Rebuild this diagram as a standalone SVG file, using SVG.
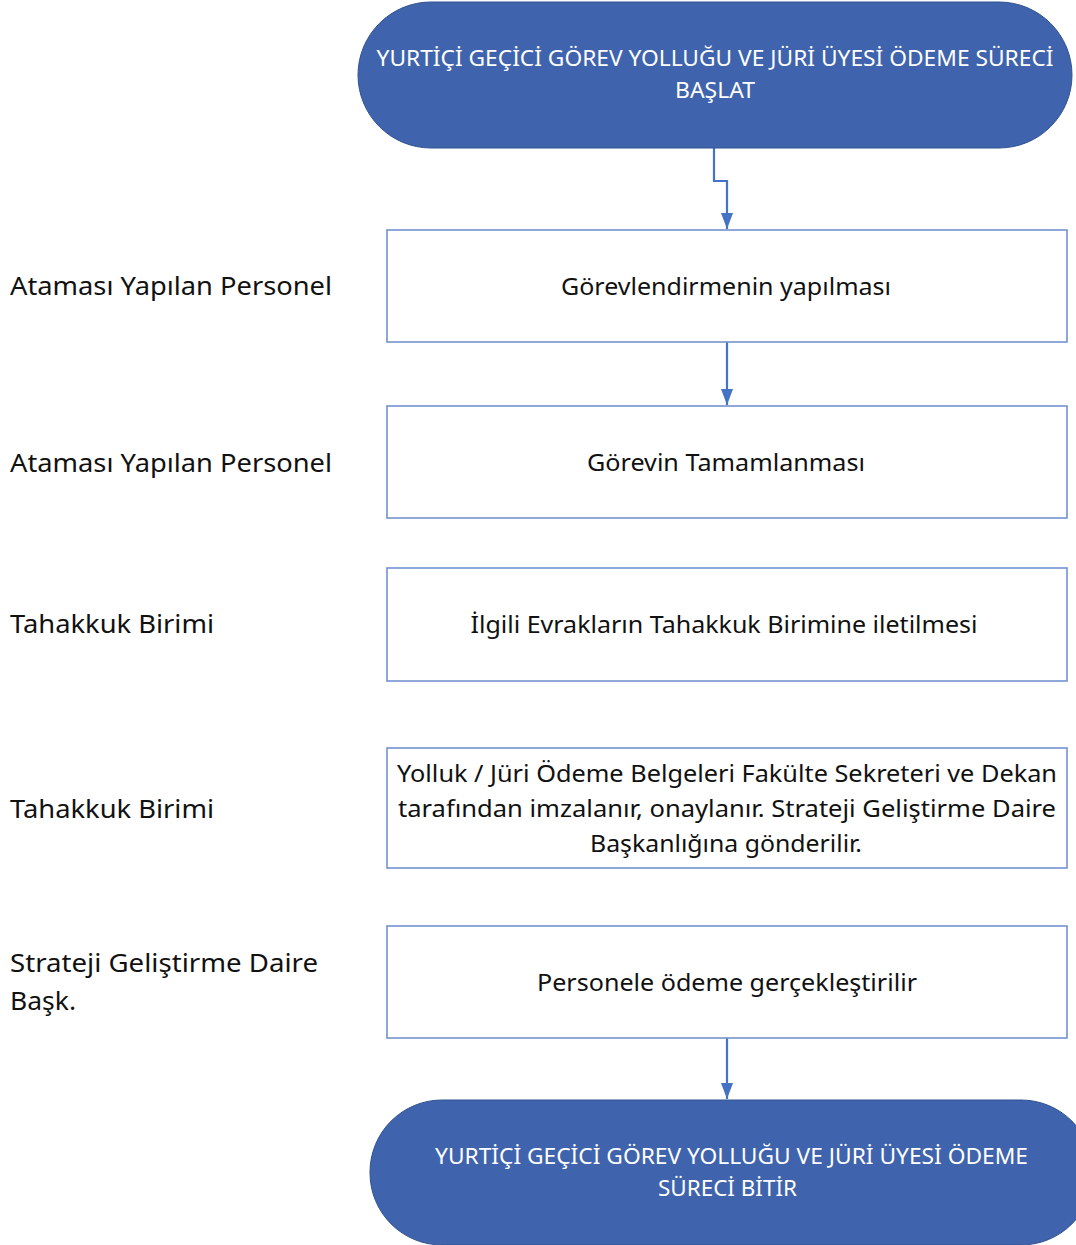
<svg xmlns="http://www.w3.org/2000/svg" width="1076" height="1245" viewBox="0 0 1076 1245">
<defs>
<style>
.term{fill:#3F64AD;stroke:#2F528F;stroke-width:1}
.box{fill:#ffffff;stroke:#7391D0;stroke-width:1.6}
.tt{font-family:"Noto Sans","Open Sans",sans-serif;font-size:22px;fill:#ffffff;text-anchor:middle}
.bt{font-family:"Noto Sans","Open Sans",sans-serif;font-size:24px;fill:#111111;text-anchor:middle}
.lt{font-family:"Noto Sans","Open Sans",sans-serif;font-size:26px;fill:#111111}
.con{fill:none;stroke:#4472C4;stroke-width:2.2}
</style>
<marker id="arr" viewBox="0 0 16 12" refX="16" refY="6" markerWidth="16" markerHeight="12" markerUnits="userSpaceOnUse" orient="auto">
<path d="M0,0 L16,6 L0,12 Z" fill="#4472C4"/>
</marker>
</defs>
<rect width="1076" height="1245" fill="#ffffff"/>

<g id="lane-labels">
<text class="lt" x="10" y="295" textLength="322" lengthAdjust="spacingAndGlyphs">Ataması Yapılan Personel</text>
<text class="lt" x="10" y="472" textLength="322" lengthAdjust="spacingAndGlyphs">Ataması Yapılan Personel</text>
<text class="lt" x="10" y="633" textLength="204" lengthAdjust="spacingAndGlyphs">Tahakkuk Birimi</text>
<text class="lt" x="10" y="818" textLength="204" lengthAdjust="spacingAndGlyphs">Tahakkuk Birimi</text>
<text class="lt" x="10" y="972" textLength="308" lengthAdjust="spacingAndGlyphs">Strateji Geliştirme Daire</text>
<text class="lt" x="10" y="1010" textLength="66" lengthAdjust="spacingAndGlyphs">Başk.</text>
</g>

<g id="connectors">
<path class="con" d="M714,148 V181 H727 V229" marker-end="url(#arr)"/>
<path class="con" d="M727,342 V405" marker-end="url(#arr)"/>
<path class="con" d="M727,1038 V1099" marker-end="url(#arr)"/>
</g>

<g id="start">
<rect class="term" x="358" y="2" width="714" height="146" rx="73" ry="73"/>
<text class="tt" x="715" y="66" textLength="677" lengthAdjust="spacingAndGlyphs">YURTİÇİ GEÇİCİ GÖREV YOLLUĞU VE JÜRİ ÜYESİ ÖDEME SÜRECİ</text>
<text class="tt" x="715" y="98" textLength="80" lengthAdjust="spacingAndGlyphs">BAŞLAT</text>
</g>

<g id="step1">
<rect class="box" x="387" y="230" width="680" height="112"/>
<text class="bt" x="726" y="295" textLength="330" lengthAdjust="spacingAndGlyphs">Görevlendirmenin yapılması</text>
</g>

<g id="step2">
<rect class="box" x="387" y="406" width="680" height="112"/>
<text class="bt" x="726" y="471" textLength="278" lengthAdjust="spacingAndGlyphs">Görevin Tamamlanması</text>
</g>

<g id="step3">
<rect class="box" x="387" y="568" width="680" height="113"/>
<text class="bt" x="724" y="633" textLength="507" lengthAdjust="spacingAndGlyphs">İlgili Evrakların Tahakkuk Birimine iletilmesi</text>
</g>

<g id="step4">
<rect class="box" x="387" y="748" width="680" height="120"/>
<text class="bt" x="727" y="782" textLength="660" lengthAdjust="spacingAndGlyphs">Yolluk / Jüri Ödeme Belgeleri Fakülte Sekreteri ve Dekan</text>
<text class="bt" x="727" y="817" textLength="658" lengthAdjust="spacingAndGlyphs">tarafından imzalanır, onaylanır. Strateji Geliştirme Daire</text>
<text class="bt" x="726" y="852" textLength="272" lengthAdjust="spacingAndGlyphs">Başkanlığına gönderilir.</text>
</g>

<g id="step5">
<rect class="box" x="387" y="926" width="680" height="112"/>
<text class="bt" x="727" y="991" textLength="380" lengthAdjust="spacingAndGlyphs">Personele ödeme gerçekleştirilir</text>
</g>

<g id="end">
<rect class="term" x="370" y="1100" width="723" height="145" rx="72" ry="72"/>
<text class="tt" x="731.5" y="1164" textLength="593" lengthAdjust="spacingAndGlyphs">YURTİÇİ GEÇİCİ GÖREV YOLLUĞU VE JÜRİ ÜYESİ ÖDEME</text>
<text class="tt" x="727.5" y="1196" textLength="139" lengthAdjust="spacingAndGlyphs">SÜRECİ BİTİR</text>
</g>
</svg>
